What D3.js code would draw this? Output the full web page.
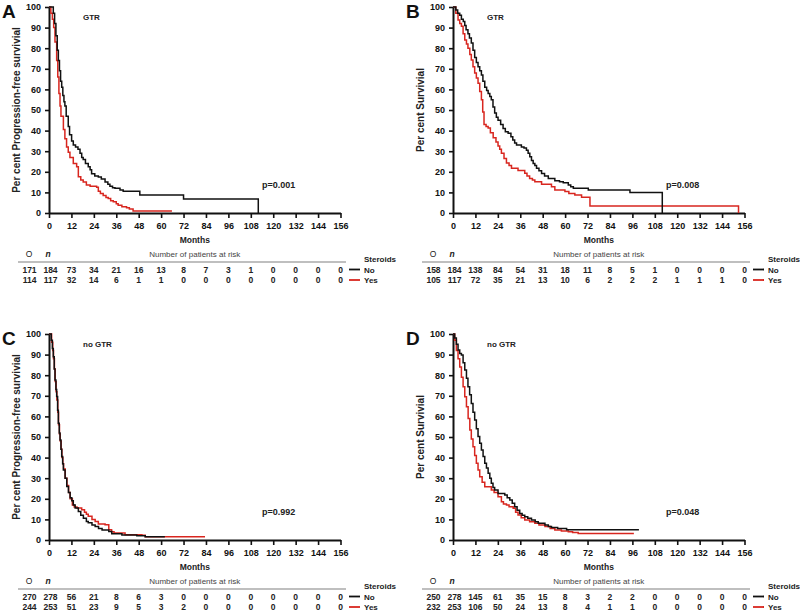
<!DOCTYPE html>
<html>
<head>
<meta charset="utf-8">
<script src="https://cdn.jsdelivr.net/npm/d3@7"></script>
<style>
  body { margin: 0; background: #fff; }
  svg { font-family: "Liberation Sans", Arial, sans-serif; }
</style>
</head>
<body>
<svg width="800" height="613"></svg>
<script>
// tick values
var monthTicks = [0, 12, 24, 36, 48, 60, 72, 84, 96, 108, 120, 132, 144, 156];
var pctTicks = [0, 10, 20, 30, 40, 50, 60, 70, 80, 90, 100];

// Kaplan-Meier curves, [month, per cent]
var pfsGtrNo = [[0,100],[2.3,97],[3,92],[3.7,86],[4.4,79],[5,74],[5.6,69],[6.2,64],[6.8,61],[7.4,57],[8,54],[8.5,52],[9.2,47],[10.3,42],[11,38],[12.1,35],[13,33],[14.2,32],[15.5,31],[16.6,29],[17.5,27],[18.3,26],[19.5,24],[21,22.5],[22,21],[22.8,19],[24.5,18],[26.4,17.5],[28,16.5],[30,15],[31.5,14],[32.6,13],[34,12.3],[35.3,12],[38,11.2],[39.7,10.5],[48.6,8.7],[72,6.8],[112,6.8],[112,0]];
var pfsGtrYes = [[0,100],[1,97],[1.8,94],[2.5,90],[3.2,83],[4.1,74],[4.7,66],[5.3,58],[5.9,52],[6.4,47],[7.7,40.5],[8.5,36],[9.4,32],[10.3,29.5],[11.2,27],[13,24],[14.8,22.5],[15.7,17.6],[17,16],[18.3,15],[20,13.6],[22,13],[25.5,12.5],[26.4,10.5],[27.5,9.5],[29,8.5],[30.5,7.5],[31.7,7],[33,6],[34.4,5.5],[36,4.5],[37,3.8],[39,3],[41.5,2.5],[43,2],[45,1],[65.8,1]];
var osGtrNo = [[0,100],[1.5,98.5],[2.5,97],[3.6,96],[4.5,94],[5.5,93],[6.3,91],[7,89],[8,87],[8.8,85],[9.8,82.5],[10.7,79],[11.6,75.5],[12.5,73],[13.4,71],[14.3,69],[15.2,67],[16,64],[17,61],[18,59.5],[18.8,58],[19.7,56.5],[20.5,55],[21.4,51.5],[22.3,48.5],[23.2,46.5],[24.1,45],[25.5,43],[26.8,41],[28,39.5],[29.5,38.7],[31,37],[32,35.4],[33,34],[34,33],[36.6,32],[38,31.5],[39.3,30.5],[40.2,29],[41.1,27.3],[42,25.5],[42.9,24],[43.8,23],[44.7,21.7],[46,20.5],[47.4,19.2],[49,18],[51,16.8],[54.5,15.7],[57,15.2],[59,14.7],[61.7,13.6],[63,12.8],[64.4,12],[72.4,11.2],[94.7,9.9],[112,9.9],[112,0]];
var osGtrYes = [[0,100],[1.5,97],[2.7,93.7],[3.6,92],[4.5,90.6],[5.4,87],[6.3,84],[7.2,82],[8,80],[9,77],[9.8,74.3],[10.7,71],[11.6,68],[12.5,65.5],[13.4,63],[14.3,59],[15.2,55],[15.9,49],[16.6,43],[17.7,42],[18.8,41.3],[20,39],[21.5,36.5],[23,34.5],[24.1,32.5],[25,31],[25.9,29],[27.3,26.5],[28.6,24.3],[30,23],[31.3,21.7],[34.8,20.6],[38.4,19.3],[39.6,18],[41,16.8],[42.5,16],[43.8,15.2],[47.4,14],[52.7,12.8],[54.5,11.2],[59.9,10.4],[62,9.5],[65.2,8.7],[68.8,7.7],[73.3,3.4],[152.8,3.4],[152.8,0]];
var pfsNoGtrNo = [[0,100],[0.5,100],[1.2,97],[1.8,93],[2.3,89],[2.8,83],[3.2,77.7],[3.7,73],[4.1,69.6],[4.6,63],[5,56.7],[5.5,52],[5.9,48.5],[6.4,44],[6.8,40.5],[7.3,37],[7.7,34],[8.6,30],[9.5,26],[10.4,23],[11.3,20.5],[12.2,19],[13,17],[14,15.5],[15.7,13.8],[17,12],[18.4,10.5],[20,9],[21,8.4],[23,7.3],[24.7,6.5],[26.5,5.6],[28.4,4.9],[32,4.1],[33.6,3],[39,2.4],[47,2.1],[51.5,1.6],[62,1.6]];
var pfsNoGtrYes = [[0,100],[0.8,100],[1.4,96],[2,92],[2.4,88],[2.9,83],[3.3,77],[3.8,72],[4.2,68],[4.7,62],[5.1,56],[5.6,51.5],[6,48],[6.5,44],[6.9,40],[7.4,37],[7.8,34.5],[8.7,30],[9.6,26.5],[10.5,23],[11.3,20],[12.5,17],[13.5,16],[15,15.5],[17.5,14.7],[19,13.5],[20,12.5],[21,11.5],[23,10],[24.7,9],[26.4,7.8],[30,7.4],[32,5],[33.5,4],[34.8,3.4],[40.7,2.6],[49.7,2.3],[51.5,1.6],[83.5,1.6]];
var osNoGtrNo = [[0,100],[0.9,98],[1.8,95],[2.7,92.2],[3.6,90.5],[4.5,89.8],[5.4,86],[6.3,82.5],[7.2,78.5],[8,74.4],[8.9,70.5],[9.8,66.3],[10.7,62],[11.6,58.2],[12.5,54],[13.4,50.2],[14.3,47],[15.2,43.7],[16.1,40.5],[17,37.2],[17.9,35],[18.8,32.4],[19.7,30],[20.5,27.5],[21.4,25.5],[22.3,24.3],[24.1,22.6],[27.7,21.8],[29,20.5],[30.4,19.4],[31.7,17.8],[33,16.2],[34.3,14.5],[35.7,12.9],[37,12],[38.4,11.3],[40,10.5],[42,9.7],[44,8.9],[45.6,8.1],[49.2,7.3],[51,6.5],[52.7,6.1],[56,5.6],[60.8,5],[99.5,5]];
var osNoGtrYes = [[0,100],[0.9,97],[1.8,92],[2.7,88],[3.6,84],[4.5,79],[5.4,74.4],[6.3,69.5],[7.2,64.7],[8.1,59],[9,53.4],[9.8,49],[10.7,45.3],[11.6,41],[12.5,37.2],[13.4,34],[14.3,30.7],[15.6,28],[17,25.9],[20.5,24.3],[22,23],[24.1,21],[25.9,18.6],[27,17.5],[28.6,17],[30,16.2],[32.2,15.4],[33.5,13.5],[34.8,12.1],[36.5,10.8],[38.4,9.7],[41,8.9],[43.8,8.1],[46,7.3],[49.2,6.5],[52,5.6],[54.5,4.9],[58,4.4],[61.7,4],[64,3.6],[67,3.2],[96.8,3.2]];

// numbers at risk: observed events, n, then months 12..156
var riskPfsGtrNo = [171, 184, 73, 34, 21, 16, 13, 8, 7, 3, 1, 0, 0, 0, 0];
var riskPfsGtrYes = [114, 117, 32, 14, 6, 1, 1, 0, 0, 0, 0, 0, 0, 0, 0];
var riskOsGtrNo = [158, 184, 138, 84, 54, 31, 18, 11, 8, 5, 1, 0, 0, 0, 0];
var riskOsGtrYes = [105, 117, 72, 35, 21, 13, 10, 6, 2, 2, 2, 1, 1, 1, 0];
var riskPfsNoGtrNo = [270, 278, 56, 21, 8, 6, 3, 0, 0, 0, 0, 0, 0, 0, 0];
var riskPfsNoGtrYes = [244, 253, 51, 23, 9, 5, 3, 2, 0, 0, 0, 0, 0, 0, 0];
var riskOsNoGtrNo = [250, 278, 145, 61, 35, 15, 8, 3, 2, 2, 0, 0, 0, 0, 0];
var riskOsNoGtrYes = [232, 253, 106, 50, 24, 13, 8, 4, 1, 1, 0, 0, 0, 0, 0];

var groupNames = ["No", "Yes"];
var colors = ["#111", "#d8261f"];

var svg = d3.select("svg");

function drawPanel(ox, oy, letter, subtitle, yTitle, pText, curves, risks) {
    var w = 291.5, h = 206;
    var g = svg.append("g").attr("transform", "translate(" + ox + "," + oy + ")");

    var x = d3.scaleLinear().domain([0, 156]).range([0, w]);
    var y = d3.scaleLinear().domain([0, 100]).range([h, 0]);

    var xAxis = g.append("g")
        .attr("transform", "translate(0," + h + ")")
        .call(d3.axisBottom(x).tickValues(monthTicks).tickSize(5).tickSizeOuter(0).tickPadding(5));
    var yAxis = g.append("g")
        .call(d3.axisLeft(y).tickValues(pctTicks).tickSize(4).tickSizeOuter(0).tickPadding(4));

    [xAxis, yAxis].forEach(function(a){
        a.select(".domain").attr("stroke", "#111").attr("stroke-width", 2);
        a.selectAll(".tick line").attr("stroke", "#111").attr("stroke-width", 1.6);
        a.selectAll(".tick text")
            .attr("fill", "#111")
            .style("font-size", "9px")
            .style("font-weight", "bold")
            .style("font-family", "Liberation Sans, Arial, sans-serif");
    });

    var line = d3.line()
        .x(function(d){ return x(d[0]); })
        .y(function(d){ return y(d[1]); })
        .curve(d3.curveStepAfter);

    // black after red so the No group sits on top where equal
    [1, 0].forEach(function(i){
        g.append("path")
            .datum(curves[i])
            .attr("d", line)
            .attr("fill", "none")
            .attr("stroke", colors[i])
            .attr("stroke-width", 1.5);
    });

    // labels
    svg.append("text").attr("x", ox - 47).attr("y", oy + 11)
        .style("font-size", "19px").style("font-weight", "bold").attr("fill", "#111")
        .text(letter);
    g.append("text").attr("x", 34).attr("y", 13)
        .style("font-size", "8px").style("font-weight", "bold").attr("fill", "#222")
        .text(subtitle);
    g.append("text").attr("x", 213).attr("y", 181)
        .style("font-size", "9px").style("font-weight", "bold").attr("fill", "#222")
        .text(pText);
    g.append("text")
        .attr("transform", "translate(-29," + (h / 2) + ") rotate(-90)")
        .attr("text-anchor", "middle")
        .style("font-size", "10px").style("font-weight", "bold").attr("fill", "#222")
        .text(yTitle);
    g.append("text").attr("x", w / 2).attr("y", 236)
        .attr("text-anchor", "middle")
        .style("font-size", "8.5px").style("font-weight", "bold").attr("fill", "#222")
        .text("Months");

    // risk table header
    g.append("text").attr("x", -20).attr("y", 250).attr("text-anchor", "middle")
        .style("font-size", "8.5px").attr("fill", "#222").text("O");
    g.append("text").attr("x", -1).attr("y", 250).attr("text-anchor", "middle")
        .style("font-size", "8.5px").style("font-style", "italic").style("font-weight", "bold")
        .attr("fill", "#222").text("n");
    g.append("text").attr("x", w / 2).attr("y", 250).attr("text-anchor", "middle")
        .style("font-size", "8px").attr("fill", "#444").text("Number of patients at risk");
    g.append("line").attr("x1", -31).attr("x2", 297).attr("y1", 255).attr("y2", 255)
        .attr("stroke", "#aaa").attr("stroke-width", 1.6);
    g.append("text").attr("x", 315).attr("y", 255)
        .style("font-size", "8px").style("font-weight", "bold").attr("fill", "#222")
        .text("Steroids");

    var rowY = [265.5, 276];
    risks.forEach(function(r, i){
        var cells = g.append("g").selectAll("text")
            .data(r)
            .enter().append("text")
            .attr("x", function(d, j){
                if (j === 0) return -19.5;
                if (j === 1) return x(0) + 1.5;
                return x(monthTicks[j - 1]);
            })
            .attr("y", rowY[i])
            .attr("text-anchor", "middle")
            .style("font-size", "8.5px").style("font-weight", "bold").attr("fill", "#222")
            .text(function(d){ return d; });
        g.append("line").attr("x1", 300).attr("x2", 311)
            .attr("y1", rowY[i] - 3).attr("y2", rowY[i] - 3)
            .attr("stroke", colors[i]).attr("stroke-width", 1.8);
        g.append("text").attr("x", 315).attr("y", rowY[i])
            .style("font-size", "8px").style("font-weight", "bold").attr("fill", "#222")
            .text(groupNames[i]);
    });
}

drawPanel(49, 7, "A", "GTR", "Per cent Progression-free survivial", "p=0.001",
    [pfsGtrNo, pfsGtrYes], [riskPfsGtrNo, riskPfsGtrYes]);
drawPanel(453, 7, "B", "GTR", "Per cent Survivial", "p=0.008",
    [osGtrNo, osGtrYes], [riskOsGtrNo, riskOsGtrYes]);
drawPanel(49, 334, "C", "no GTR", "Per cent Progression-free survivial", "p=0.992",
    [pfsNoGtrNo, pfsNoGtrYes], [riskPfsNoGtrNo, riskPfsNoGtrYes]);
drawPanel(453, 334, "D", "no GTR", "Per cent Survivial", "p=0.048",
    [osNoGtrNo, osNoGtrYes], [riskOsNoGtrNo, riskOsNoGtrYes]);
</script>
</body>
</html>
